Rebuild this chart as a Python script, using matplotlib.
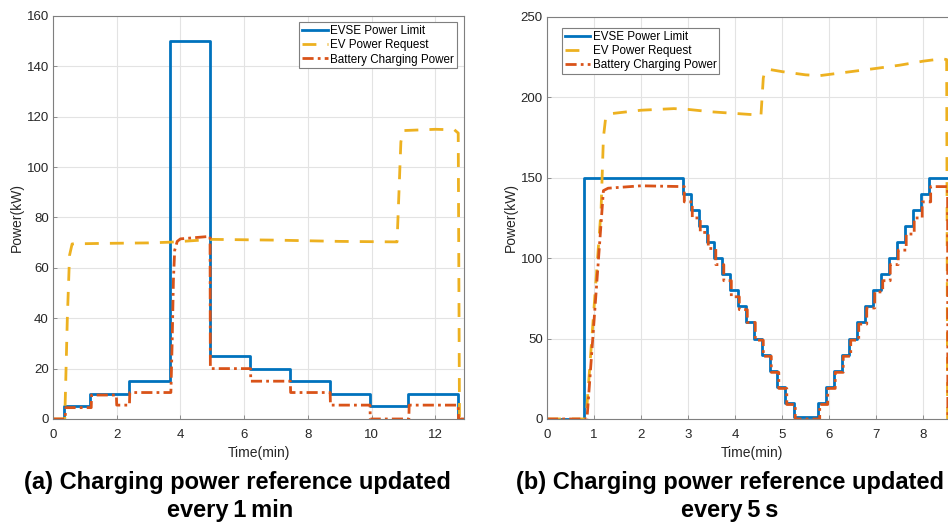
import numpy as np
import matplotlib.pyplot as plt

plt.rcParams['font.family'] = ['Liberation Sans', 'DejaVu Sans']

BLUE = "#0072BD"
ORANGE = "#D95319"
YELLOW = "#EDB120"

# =========================
# (a) reference updated every 1 min
# =========================
a_limit_t = [0, 0.35, 1.17, 2.40, 3.68, 4.94, 6.18, 7.43, 8.68, 9.94, 11.14, 12.71, 12.9]
a_limit_p = [0, 5, 10, 15, 150, 25, 20, 15, 10, 5, 10, 0, 0]

a_req_t = [0, 0.37, 0.45, 0.52, 0.6, 1.5, 3.0, 3.7, 5.0, 7.0, 9.0, 10.8, 10.86, 10.92,
           11.0, 12.0, 12.6, 12.72, 12.76, 12.9]
a_req_p = [0, 0, 40, 65, 69.5, 69.7, 69.9, 70.2, 71.3, 71.0, 70.5, 70.3, 90, 110,
           114.5, 115, 114.8, 113.5, 0, 0]

a_batt_t = [0, 0.38, 0.40, 1.20, 1.21, 1.99, 2.00, 2.40, 2.41, 3.70, 3.74, 3.78, 3.82,
            3.9, 4.0, 4.93, 4.94, 6.20, 6.21, 7.45, 7.46, 8.70, 8.71, 9.95, 9.96,
            11.17, 11.18, 12.72, 12.73, 12.9]
a_batt_p = [0, 0, 4.5, 4.5, 9.5, 9.5, 5.5, 5.5, 10.5, 10.5, 30, 55, 67,
            70.5, 71.5, 72.5, 20, 20, 15, 15, 10.5, 10.5, 5.5, 5.5, 0,
            0, 5.5, 5.5, 0, 0]

# =========================
# (b) reference updated every 5 s
# =========================
b_limit_t = [0, 0.78, 2.89, 3.06, 3.23, 3.40, 3.56, 3.73, 3.89, 4.06, 4.23, 4.40, 4.57,
             4.74, 4.90, 5.07, 5.25, 5.77, 5.94, 6.10, 6.27, 6.43, 6.60, 6.77, 6.94,
             7.11, 7.27, 7.44, 7.61, 7.78, 7.95, 8.13, 9.0]
b_limit_p = [0, 150, 140, 130, 120, 110, 100, 90, 80, 70, 60, 50, 40,
             30, 20, 10, 1, 10, 20, 30, 40, 50, 60, 70, 80,
             90, 100, 110, 120, 130, 140, 150, 150]

b_req_t = [0, 0.83, 1.15, 1.2, 1.25, 1.4, 2.0, 2.7, 3.0, 3.5, 4.0, 4.5, 4.55, 4.6,
           4.63, 4.7, 5.0, 5.5, 5.8, 6.2, 6.6, 7.0, 7.5, 8.0, 8.4, 8.5, 8.52, 9.0]
b_req_p = [0, 0, 130, 175, 188, 190, 192, 193, 192.5, 191, 190, 189, 188.5, 212,
           216, 217.5, 216, 214, 213.5, 215, 216.5, 218, 220, 222.5, 224, 223.5, 0, 0]

b_batt_ramp_t = [0, 0.85, 1.2, 1.3, 2.0, 2.89]
b_batt_ramp_p = [0, 0, 142, 143.5, 145, 144.5]
b_batt_down = [135, 125, 116, 106, 96, 86, 76, 68, 60, 49, 39, 29, 19, 9, 0]
b_batt_up = [9, 19, 29, 39, 49, 59, 69, 79, 86, 96, 105, 115, 125, 135, 144.5]
b_batt_end_t = 8.52


def batt_b():
    t = list(b_batt_ramp_t)
    p = list(b_batt_ramp_p)
    lag = 0.03
    # descending staircase, lagging the limit a little
    for i, v in enumerate(b_batt_down):
        t0 = b_limit_t[2 + i] + lag
        t += [t0, t0]
        p += [p[-1], v]
    # ascending staircase
    for i, v in enumerate(b_batt_up):
        t0 = b_limit_t[17 + i] + lag
        t += [t0, t0]
        p += [p[-1], v]
    t += [b_batt_end_t, b_batt_end_t + 0.005, 9.0]
    p += [p[-1], 0, 0]
    return t, p


def style_axes(ax):
    ax.grid(True, color="#e3e3e3", linewidth=0.8)
    ax.set_axisbelow(True)
    for s in ax.spines.values():
        s.set_color("#7f7f7f")
        s.set_linewidth(0.8)
    ax.tick_params(direction="in", length=3, width=0.6, colors="#7f7f7f",
                   labelcolor="#262626", labelsize=9.5)
    ax.tick_params(axis="x", pad=7)
    ax.tick_params(axis="y", pad=3)
    ax.set_xlabel("Time(min)", fontsize=10, color="#262626", labelpad=3.5)
    ax.set_ylabel("Power(kW)", fontsize=10, color="#262626", labelpad=2)


def add_legend(ax, anchor, loc):
    leg = ax.legend(loc=loc, bbox_to_anchor=anchor, fontsize=8.4, frameon=True,
                    fancybox=False, edgecolor="#7f7f7f", framealpha=1,
                    handlelength=2.2, handletextpad=0.2, borderpad=0.25,
                    labelspacing=0.2, borderaxespad=0)
    leg.get_frame().set_linewidth(0.8)
    return leg


fig = plt.figure(figsize=(9.48, 5.23), dpi=100)

# left panel
ax1 = fig.add_axes([0.0559, 0.1989, 0.4335, 0.7706])
ax1.step(a_limit_t, a_limit_p, where="post", color=BLUE, lw=2.0, label="EVSE Power Limit")
ax1.plot(a_req_t, a_req_p, color=YELLOW, lw=2.0, dashes=(5, 4), label="EV Power Request")
ax1.plot(a_batt_t, a_batt_p, color=ORANGE, lw=2.0, dashes=(4, 1.5, 1, 1.5),
         label="Battery Charging Power")
ax1.set_xlim(0, 12.9)
ax1.set_ylim(0, 160)
ax1.set_xticks([0, 2, 4, 6, 8, 10, 12])
ax1.set_yticks(np.arange(0, 161, 20))
style_axes(ax1)
add_legend(ax1, (0.983, 0.985), "upper right")

# right panel (cut off at the right edge like the original)
ax2 = fig.add_axes([0.577, 0.1989, 0.4325, 0.7687])
ax2.step(b_limit_t, b_limit_p, where="post", color=BLUE, lw=2.0, label="EVSE Power Limit")
ax2.plot(b_req_t, b_req_p, color=YELLOW, lw=2.0, dashes=(5, 4), label="EV Power Request")
bt, bp = batt_b()
ax2.plot(bt, bp, color=ORANGE, lw=2.0, dashes=(4, 1.5, 1, 1.5),
         label="Battery Charging Power")
ax2.set_xlim(0, 8.72)
ax2.set_ylim(0, 250)
ax2.set_xticks(range(0, 9))
ax2.set_yticks(np.arange(0, 251, 50))
style_axes(ax2)
add_legend(ax2, (0.036, 0.973), "upper left")

# captions
cap = dict(ha="center", va="center", fontsize=17, fontweight="bold")
fig.text(237 / 948, 1 - 482 / 523, "(a) Charging power reference updated", **cap)
fig.text(230 / 948, 1 - 510 / 523, "every\u20091\u2009min", **cap)
fig.text(730 / 948, 1 - 482 / 523, "(b) Charging power reference updated", **cap)
fig.text(730 / 948, 1 - 510 / 523, "every\u20095\u2009s", **cap)

fig.savefig("out.png", dpi=100)
